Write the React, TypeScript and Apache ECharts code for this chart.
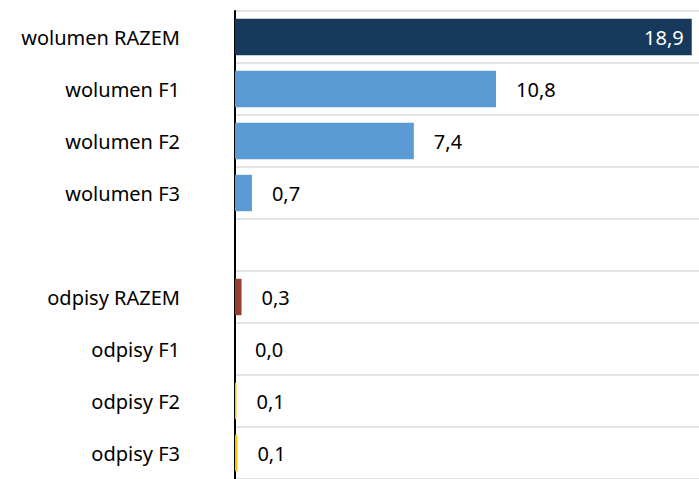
import React, { useEffect, useRef } from "react";
import * as echarts from "echarts";

const categories = [
  "wolumen RAZEM",
  "wolumen F1",
  "wolumen F2",
  "wolumen F3",
  "",
  "odpisy RAZEM",
  "odpisy F1",
  "odpisy F2",
  "odpisy F3",
];
const values: (number | null)[] = [18.9, 10.8, 7.4, 0.7, null, 0.27, 0.0, 0.06, 0.1];
const colors = [
  "#173a5c",
  "#5b9bd5",
  "#5b9bd5",
  "#5b9bd5",
  "#5b9bd5",
  "#943f30",
  "#ffc000",
  "#ffc000",
  "#ffc000",
];
const insideIndex = 0;

const FONT = "Noto Sans";
const FS = 20;

export default function App() {
  const ref = useRef<HTMLDivElement>(null);
  useEffect(() => {
    if (!ref.current) return;
    const chart = echarts.init(ref.current, undefined, { renderer: "svg" });
    const fmt = (v: number) => v.toFixed(1).replace(".", ",");
    const data = values.map((v, i) => {
      if (v === null) return { value: "-" as any, label: { show: false } };
      const item: any = {
        value: v,
        itemStyle: { color: colors[i] },
      };
      if (i === insideIndex) {
        item.label = {
          show: true,
          position: "insideRight",
          color: "#ffffff",
          distance: 8,
        };
      }
      return item;
    });
    chart.setOption({
      animation: false,
      grid: { left: 235, right: 0, top: 11, bottom: 0, containLabel: false },
      xAxis: {
        type: "value",
        min: 0,
        max: 19.2,
        show: false,
        splitLine: { show: false },
      },
      yAxis: {
        type: "category",
        inverse: true,
        data: categories,
        axisLine: { show: true, lineStyle: { color: "#000000", width: 2 } },
        axisTick: { show: false },
        axisLabel: {
          color: "#000000",
          fontFamily: FONT,
          fontSize: FS,
          margin: 55,
        },
        splitLine: { show: true, lineStyle: { color: "#d9d9d9", width: 1.5 } },
      },
      series: [
        {
          type: "bar",
          data,
          barCategoryGap: "30%",
          label: {
            show: true,
            position: "right",
            distance: 20,
            color: "#000000",
            fontFamily: FONT,
            fontSize: FS,
            formatter: (p: any) => fmt(p.value),
          },
        },
      ],
    });
    return () => chart.dispose();
  }, []);
  return <div ref={ref} style={{ width: 699, height: 479, position: "absolute", left: 0, top: 0 }} />;
}
